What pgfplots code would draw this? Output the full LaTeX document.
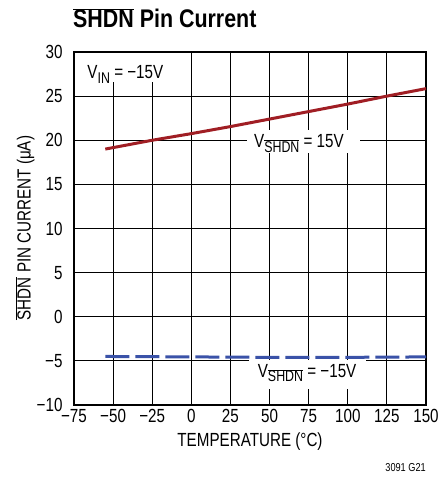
\documentclass[border=0pt]{standalone}
\usepackage{pgfplots}
\pgfplotsset{compat=1.18}
\usepackage{fontspec}
\setmainfont{Liberation Sans}[FakeStretch=0.8]
\newfontfamily\titlefont{Liberation Sans}[FakeStretch=0.84]
\definecolor{redline}{RGB}{160,30,36}
\definecolor{blueline}{RGB}{58,82,168}
\newcommand{\shdn}{$\overline{\mbox{SHDN}}$}
\newcommand{\sub}[1]{\raisebox{-0.45ex}{\fontsize{15.5}{15}\selectfont #1}}
\begin{document}
\fontsize{19}{22}\selectfont
\begin{tikzpicture}
\path[use as bounding box] (0,0) rectangle (439pt,479pt);
\begin{axis}[
  at={(74pt,74pt)}, anchor=south west,
  scale only axis, width=352pt, height=353pt,
  xmin=-75, xmax=150, ymin=-10, ymax=30,
  xtick={-75,-50,-25,0,25,50,75,100,125,150},
  xticklabels={−75,−50,−25,0,25,50,75,100,125,150},
  ytick={-10,-5,0,5,10,15,20,25,30},
  yticklabels={−10,−5,0,5,10,15,20,25,30},
  major tick length=0pt,
  grid=major,
  grid style={black, line width=0.9pt},
  axis line style={black, line width=1.4pt},
  axis on top=false,
  xticklabel style={inner sep=4pt, font=\fontsize{19}{22}\selectfont},
  yticklabel style={xshift=-5pt, font=\fontsize{19}{22}\selectfont},
  clip=false,
]
\node[fill=white, inner sep=0pt, anchor=north west, minimum width=105pt, minimum height=29pt, xshift=0.8pt, yshift=-0.8pt] at (axis cs:-75,30) {};
\node[anchor=base west, inner sep=0pt] at (axis cs:-66.5,26.95) {V\sub{IN} = −15V};
\node[fill=white, inner sep=0pt, minimum width=113pt, minimum height=23pt] at (axis cs:72,19.85) {};
\node[inner sep=0pt] at (axis cs:68.8,19.6) {V\sub{\shdn} = 15V};
\node[fill=white, inner sep=0pt, minimum width=117pt, minimum height=29pt] at (axis cs:74,-6.55) {};
\node[inner sep=0pt] at (axis cs:74,-6.4) {V\sub{\shdn} = −15V};
\addplot[redline, line width=3pt] coordinates {
(-55,19.0) (-25,20.0) (0,20.75) (25,21.55) (50,22.4) (75,23.25) (100,24.1) (125,25.0) (150,25.85)};
\addplot[blueline, line width=3pt, dash pattern=on 24pt off 6pt] coordinates {
(-55,-4.5) (0,-4.55) (50,-4.6) (100,-4.6) (150,-4.55)};
\end{axis}
\draw[black, line width=1.4pt] (74pt,427pt) -- (180pt,427pt);
\node[anchor=base west, inner sep=0pt] at (73pt,451pt) {\titlefont\bfseries\fontsize{25.5}{28}\selectfont \shdn\ Pin Current};
\node[rotate=90, inner sep=0pt] at (25pt,251pt) {\shdn\ PIN CURRENT (μA)};
\node[anchor=base, inner sep=0pt] at (250pt,32pt) {TEMPERATURE (°C)};
\node[anchor=base east, inner sep=0pt] at (426pt,7pt) {\fontsize{11.5}{13}\selectfont 3091 G21};
\end{tikzpicture}
\end{document}
